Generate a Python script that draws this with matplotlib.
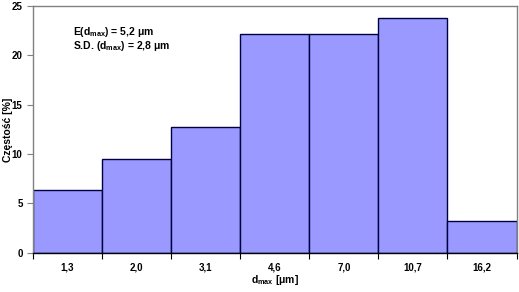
import matplotlib.pyplot as plt
import numpy as np

labels = ['1,3', '2,0', '3,1', '4,6', '7,0', '10,7', '16,2']
values = [6.4, 9.5, 12.7, 22.2, 22.2, 23.8, 3.2]

plt.rcParams['font.family'] = ['Liberation Sans', 'DejaVu Sans']
plt.rcParams['font.weight'] = 'bold'

fig = plt.figure(figsize=(5.19, 2.92), dpi=100)
ax = fig.add_axes([33 / 519, 1 - 252.7 / 292, (516.5 - 33) / 519, (252.7 - 6) / 292])

x = np.arange(len(values))
ax.bar(x, values, width=1.0, color='#9999ff', edgecolor='#000040', linewidth=1.0)

ax.set_xlim(-0.5, len(values) - 0.5)
ax.set_ylim(0, 25)
ax.set_yticks([0, 5, 10, 15, 20, 25])
ax.set_xticks(x)
ax.set_xticklabels(labels)
ax.set_xticks(np.arange(len(values) + 1) - 0.5, minor=True)
ax.tick_params(axis='x', which='major', length=0, pad=7, labelsize=7)
ax.tick_params(axis='x', which='minor', length=4, color='#000000', width=0.8)
ax.tick_params(axis='y', length=4, labelsize=7, color='#808080', width=0.8)

for s in ['top', 'right', 'left']:
    ax.spines[s].set_color('#808080')
    ax.spines[s].set_linewidth(1.0)
ax.spines['bottom'].set_color('#000000')
ax.spines['bottom'].set_linewidth(1.0)

ax.set_ylabel('Częstość [%]', fontsize=7.5, fontweight='bold')
ax.yaxis.set_label_coords(-(33 - 8) / 483.5, 0.5)
ax.set_xlabel(r'd$_{\mathregular{max}}$ [$\mathregular{\mu}$m]', fontsize=7.5, fontweight='bold')
ax.xaxis.set_label_coords((275 - 33) / 483.5, -(280 - 252.7) / 246.7)
ax.xaxis.label.set_va('center')
ax.yaxis.label.set_va('center')

ax.text(0.083, 0.895, r'E(d$_{\mathregular{max}}$) = 5,2 $\mathregular{\mu}$m', transform=ax.transAxes,
        fontsize=7.5, fontweight='bold', va='center')
ax.text(0.083, 0.838, r'S.D. (d$_{\mathregular{max}}$) = 2,8 $\mathregular{\mu}$m', transform=ax.transAxes,
        fontsize=7.5, fontweight='bold', va='center')

fig.savefig('out.png', dpi=100)
